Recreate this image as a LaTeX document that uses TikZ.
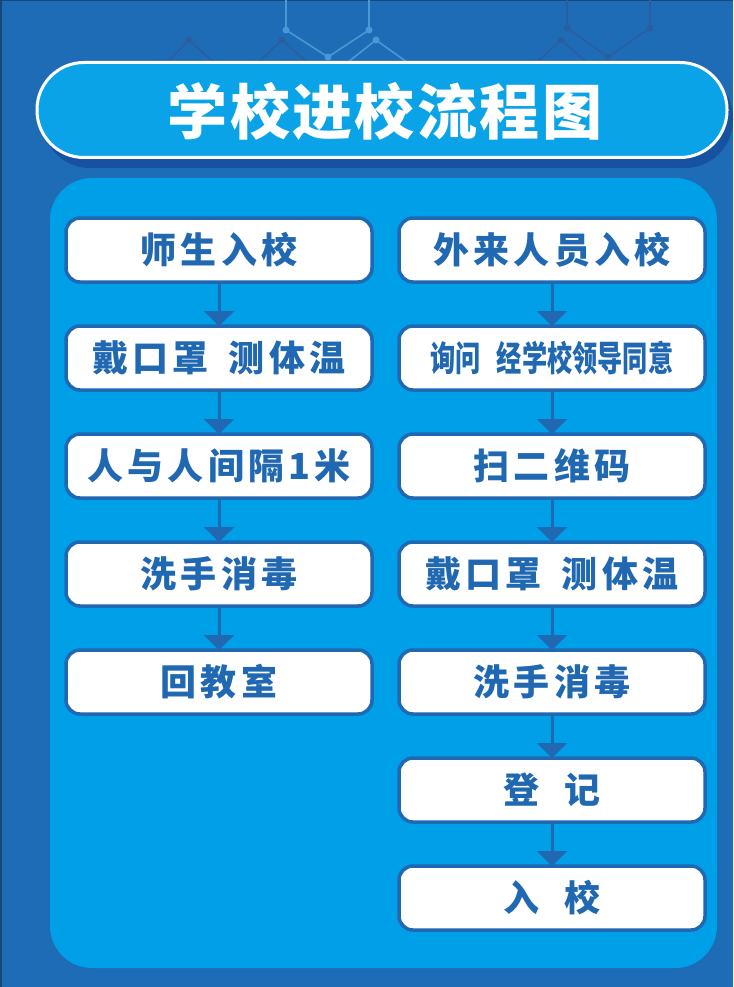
\documentclass[tikz,border=0pt]{standalone}
\usepackage{fontspec}
\usepackage{tikz}
\usetikzlibrary{positioning,arrows.meta,calc}
\newfontfamily\cjk{Noto Sans CJK SC}[LetterSpace=4]
\newfontfamily\cjkspaced{Noto Sans CJK SC}[LetterSpace=12]
\newfontfamily\cjknarrow{Noto Sans CJK SC}[FakeStretch=0.72]
\definecolor{bgblue}{RGB}{31,108,182}
\definecolor{edgeblue}{RGB}{24,70,120}
\definecolor{panelblue}{RGB}{0,160,233}
\definecolor{pillblue}{RGB}{10,163,232}
\definecolor{shadowblue}{RGB}{22,82,160}
\definecolor{inkblue}{RGB}{32,104,178}
\definecolor{hexlight}{RGB}{72,152,212}
\definecolor{hexdark}{RGB}{42,94,158}
\tikzset{
  stepbox/.style={draw=inkblue, fill=white, line width=3.5pt, rounded corners=14pt,
    minimum width=306pt, minimum height=64pt, inner sep=0pt, outer sep=0pt, text=inkblue,
    font=\cjkspaced\bfseries\fontsize{36pt}{36pt}\selectfont},
  narrowtext/.style={font=\cjknarrow\bfseries\fontsize{35pt}{35pt}\selectfont},
  flow/.style={draw=inkblue, line width=3pt, -{Triangle[width=30pt,length=15pt]}},
  hexline/.style={line width=1.6pt, line join=round},
}

\begin{document}
\begin{tikzpicture}[x=1pt, y=-1pt, node distance=44pt]
    \useasboundingbox (0,0) rectangle (733,987);
    \fill[bgblue] (0,0) rectangle (733,987);
    \draw[edgeblue, line width=3pt] (0,987) -- (0,0) -- (733,0);

    \draw[hexline, hexdark] (160,70) -- (189,40) -- (222,70);
    \draw[hexline, hexdark] (250,70) -- (282,40) -- (316,70);
    \draw[hexline, hexdark] (567,0) -- (567,28) -- (608,57) -- (650,28) -- (650,0);
    \draw[hexline, hexdark] (528,70) -- (561,40) -- (596,70);
    \foreach \p in {(189,40),(282,40),(567,28),(608,57),(650,28),(561,40)}
        \fill[hexdark] \p circle (3.5);
    \draw[hexline, hexlight] (286,0) -- (286,30) -- (328,57) -- (369,30) -- (369,0);
    \draw[hexline, hexlight] (338,70) -- (376,40) -- (418,70);
    \foreach \p in {(286,30),(369,30),(328,57),(376,40)}
        \fill[hexlight] \p circle (3.5);

    \fill[shadowblue, rounded corners=48pt] (42,70) rectangle (733,168);
    \node[draw=white, fill=pillblue, line width=3pt, rounded corners=47pt,
        minimum width=690pt, minimum height=95pt] (titlebar) at (382,110) {};
    \node[text=white, font=\cjk\bfseries\fontsize{60pt}{60pt}\selectfont] (title) at (385,111) {学校进校流程图};

    \fill[panelblue, rounded corners=42pt] (50,178) rectangle (717,968);

    \node[stepbox] (l1) at (219,250) {师生入校};
    \node[stepbox, below=of l1] (l2) {戴口罩\hspace{20pt}测体温};
    \node[stepbox, below=of l2] (l3) {人与人间隔1米};
    \node[stepbox, below=of l3] (l4) {洗手消毒};
    \node[stepbox, below=of l4] (l5) {回教室};

    \node[stepbox] (r1) at (552,250) {外来人员入校};
    \node[stepbox, narrowtext, below=of r1] (r2) {询问\hspace{16pt}经学校领导同意};
    \node[stepbox, below=of r2] (r3) {扫二维码};
    \node[stepbox, below=of r3] (r4) {戴口罩\hspace{20pt}测体温};
    \node[stepbox, below=of r4] (r5) {洗手消毒};
    \node[stepbox, below=of r5] (r6) {登\hspace{26pt}记};
    \node[stepbox, below=of r6] (r7) {入\hspace{26pt}校};

    \draw[flow] (l1) -- (l2);
    \draw[flow] (l2) -- (l3);
    \draw[flow] (l3) -- (l4);
    \draw[flow] (l4) -- (l5);
    \draw[flow] (r1) -- (r2);
    \draw[flow] (r2) -- (r3);
    \draw[flow] (r3) -- (r4);
    \draw[flow] (r4) -- (r5);
    \draw[flow] (r5) -- (r6);
    \draw[flow] (r6) -- (r7);
\end{tikzpicture}
\end{document}
